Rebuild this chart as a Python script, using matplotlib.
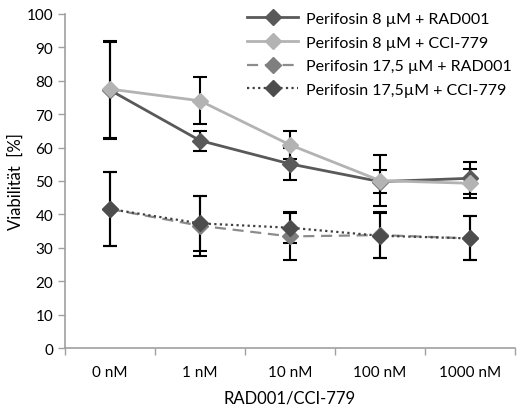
import matplotlib
matplotlib.use('Agg')
import matplotlib.pyplot as plt
from matplotlib.legend_handler import HandlerLine2D

plt.rcParams['font.family'] = ['Lato', 'DejaVu Sans']

# Daten
kategorien = ['0 nM', '1 nM', '10 nM', '100 nM', '1000 nM']
p8_rad = [77.2, 62.1, 55.1, 49.8, 50.8]
p8_rad_err = [14.5, 3.0, 4.7, 3.5, 4.8]
p8_cci = [77.5, 74.0, 60.8, 50.1, 49.3]
p8_cci_err = [14.5, 7.0, 4.1, 7.7, 4.3]
p175_rad = [41.6, 36.6, 33.4, 33.8, 32.8]
p175_rad_err = [11.0, 9.0, 7.0, 7.0, 6.6]
p175_cci = [41.6, 37.3, 36.0, 33.6, 32.8]
p175_cci_err = [11.0, 8.2, 4.6, 6.8, 6.6]


# Legende wie in Excel: Marker am linken Ende der Linie
class MarkerLinks(HandlerLine2D):
    def get_xdata(self, legend, xdescent, ydescent, width, height, fontsize):
        xdata = [-xdescent, -xdescent + width]
        return xdata, [-xdescent + 0.1 * width]


fig = plt.figure(figsize=(5.23, 4.14), dpi=100)
ax = fig.add_axes([0.124, 0.157, 0.861, 0.807])

x = range(len(kategorien))
reihen = [
    (p8_rad, p8_rad_err, '#595959', '#595959', '-', 'Perifosin 8 µM + RAD001'),
    (p8_cci, p8_cci_err, '#b3b3b3', '#b3b3b3', '-', 'Perifosin 8 µM + CCI-779'),
    (p175_rad, p175_rad_err, '#8c8c8c', '#7f7f7f', (0, (5, 3)), 'Perifosin 17,5 µM + RAD001'),
    (p175_cci, p175_cci_err, '#404040', '#4d4d4d', (0, (1, 1.5)), 'Perifosin 17,5µM + CCI-779'),
]
for werte, fehler, lc, mc, ls, name in reihen:
    ax.errorbar(x, werte, yerr=fehler, color=lc, ls=ls, lw=2 if ls == '-' else 1.6,
                marker='D', ms=8, mfc=mc, mec=mc, ecolor='black', elinewidth=1.5,
                capsize=5, capthick=1.5, label=name)

ax.set_xlim(-0.5, 4.5)
ax.set_ylim(0, 100)
ax.set_yticks(range(0, 101, 10))
ax.set_xticks(list(x))
ax.set_xticklabels(kategorien)
ax.set_xticks([i - 0.5 for i in range(6)], minor=True)
ax.tick_params(axis='x', which='major', length=0, pad=12, labelsize=11)
ax.tick_params(axis='x', which='minor', length=5, color='#a0a0a0', width=1)
ax.tick_params(axis='y', length=5, color='#a0a0a0', width=1, labelsize=11)
for s in ['top', 'right']:
    ax.spines[s].set_visible(False)
for s in ['left', 'bottom']:
    ax.spines[s].set_color('#a0a0a0')
    ax.spines[s].set_linewidth(1.2)

ax.set_ylabel('Viabilität  [%]', fontsize=12, labelpad=2)
ax.set_xlabel('RAD001/CCI-779', fontsize=12, labelpad=8)

handles, labels = ax.get_legend_handles_labels()
handles = [h[0] for h in handles]
ax.legend(handles, labels, loc='upper right', bbox_to_anchor=(1.025, 1.05), frameon=False,
          fontsize=11.5, numpoints=1, handlelength=3.2, handletextpad=0.5, labelspacing=0.6,
          handler_map={h: MarkerLinks() for h in handles})

fig.savefig('out.png', dpi=100)
